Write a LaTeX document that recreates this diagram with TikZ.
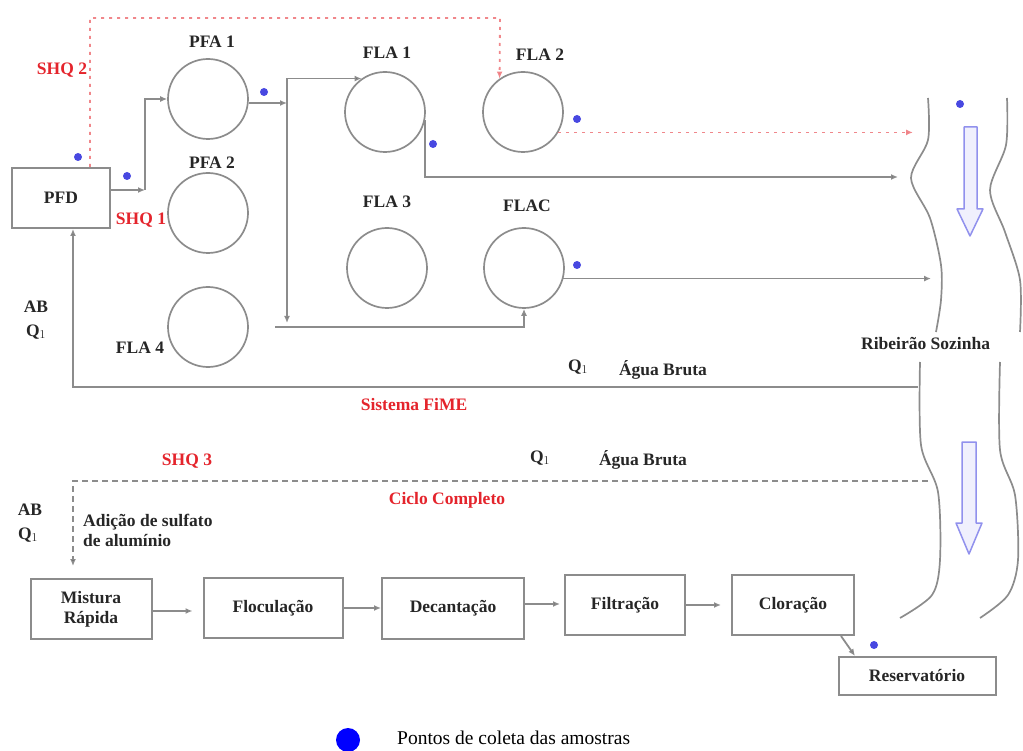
\documentclass[tikz,border=0pt]{standalone}
\usepackage{fontspec}
\setmainfont{Liberation Serif}
\usetikzlibrary{arrows.meta}

\definecolor{linegray}{RGB}{140,140,140}
\definecolor{shqred}{RGB}{228,36,44}
\definecolor{dotblue}{RGB}{72,72,225}
\definecolor{legendblue}{RGB}{0,0,255}
\newcommand{\unitfont}{\fontsize{17.5}{20}\selectfont\bfseries}

\tikzset{
  tank/.style={circle,draw=linegray,line width=1.7pt,minimum size=80pt,inner sep=0pt},
  unitbox/.style={rectangle,draw=linegray,line width=2pt,align=center,
    font=\unitfont,text=black!85,inner sep=0pt},
  lbl/.style={font=\unitfont,text=black!85,align=left,inner sep=0pt},
  redlbl/.style={lbl,text=shqred},
  flow/.style={draw=linegray,line width=1.8pt,
    -{Latex[length=7pt,width=6pt,fill=black!75]}},
  shqline/.style={draw=shqred!55,line width=1.8pt,dash pattern=on 3pt off 5pt,
    -{Latex[length=7pt,width=6pt,fill=shqred!70]}},
  rawline/.style={draw=linegray,line width=1.8pt,dash pattern=on 6pt off 4pt,
    -{Latex[length=7pt,width=6pt,fill=black]}},
  coleta/.style={circle,fill=dotblue,minimum size=8pt,inner sep=0pt},
  bank/.style={draw=linegray,line width=1.7pt},
  current/.style={draw=dotblue!60,fill=dotblue!8,line width=1.5pt,line join=round},
}

\begin{document}
\begin{tikzpicture}[x=1pt,y=-1pt]
  \useasboundingbox (0,0) rectangle (1023,751);

  % Sistema FiME: pre-filtros, filtros lentos e o ribeirao
  \node[unitbox,minimum width=98pt,minimum height=60pt] (pfd) at (61,198) {PFD};
  \node[tank] (pfa1) at (208,99) {};
  \node[lbl] (pfa1-lbl) at (212,42) {PFA 1};
  \node[tank] (pfa2) at (208,213) {};
  \node[lbl] (pfa2-lbl) at (212,163) {PFA 2};
  \node[tank] (fla4) at (208,327) {};
  \node[lbl] (fla4-lbl) at (140,348) {FLA 4};
  \node[tank] (fla1) at (385,112) {};
  \node[lbl] (fla1-lbl) at (387,53) {FLA 1};
  \node[tank] (fla2) at (523,112) {};
  \node[lbl] (fla2-lbl) at (540,55) {FLA 2};
  \node[tank] (fla3) at (387,268) {};
  \node[lbl] (fla3-lbl) at (387,202) {FLA 3};
  \node[tank] (flac) at (524,268) {};
  \node[lbl] (flac-lbl) at (527,206) {FLAC};

  % pontos de passagem e chegada no ribeirao
  \coordinate (split) at (145,190);
  \coordinate (jct) at (287,103);
  \coordinate (low) at (287,323);
  \coordinate (stub) at (275,327);
  \coordinate (shqtop) at (500,18);
  \coordinate (riv1) at (898,177);
  \coordinate (riv2) at (913,133);
  \coordinate (riv3) at (931,277);
  \coordinate (riv4) at (918,387);
  \coordinate (riv5) at (928,481);

  \draw[flow] ([yshift=8pt]pfd.east) -- (split);
  \draw[flow] (split) |- (pfa1.west);
  \draw[flow] (pfa1.east |- jct) -- (jct);
  \draw[flow] (jct) |- (fla1.125);
  \draw[flow] (jct) -- (low);
  \draw[flow] (stub) -| (flac.south);
  \draw[flow] (fla1.-12) |- (riv1);
  \draw[flow] (flac.-15) -- (flac.-15 -| riv3);
  \draw[flow] (riv4) -| ([xshift=12pt]pfd.south);
  \draw[shqline] ([xshift=29pt]pfd.north) |- (shqtop) -- (fla2.125);
  \draw[shqline] (fla2.-30) -- (fla2.-30 -| riv2);

  \node[redlbl] (shq2) at (62,70) {SHQ 2};
  \node[redlbl] (shq1) at (141,220) {SHQ 1};
  \node[lbl] (ab1) at (36,307) {AB};
  \node[lbl] (q1a) at (36,332) {Q$_1$};
  \node[lbl] (q1b) at (578,367) {Q$_1$};
  \node[lbl] (agua1) at (663,370) {Água Bruta};
  \node[redlbl] (fime) at (414,405) {Sistema FiME};

  % Ribeirao: margens, sentido da corrente
  \draw[bank] plot[smooth] coordinates
    {(928,98) (928,140) (911,178) (930,218) (941,265) (941,300) (936,332)};
  \draw[bank] plot[smooth] coordinates
    {(1007,98) (1006,145) (990,190) (1005,232) (1020,280) (1020,332)};
  \draw[bank] plot[smooth] coordinates
    {(920,362) (921,445) (938,492) (940,560) (932,595) (900,618)};
  \draw[bank] plot[smooth] coordinates
    {(1000,362) (1000,450) (1015,495) (1018,560) (1008,595) (980,618)};
  \node[lbl,anchor=west] (ribeirao) at (861,343) {Ribeirão Sozinha};
  \draw[current] (964,127) -- (977,127) -- (977,209) -- (983,209) -- (970,236)
    -- (957,209) -- (964,209) -- cycle;
  \draw[current] (962,442) -- (976,442) -- (976,523) -- (982,523) -- (969,554)
    -- (956,523) -- (962,523) -- cycle;

  % Ciclo Completo: tratamento convencional
  \node[unitbox,minimum width=121pt,minimum height=60pt] (mist) at (91,609) {Mistura\\Rápida};
  \node[unitbox,minimum width=139pt,minimum height=60pt] (floc) at (273,608) {Floculação};
  \node[unitbox,minimum width=142pt,minimum height=61pt] (deca) at (453,608) {Decantação};
  \node[unitbox,minimum width=120pt,minimum height=60pt] (filt) at (625,605) {Filtração};
  \node[unitbox,minimum width=122pt,minimum height=60pt] (clor) at (793,605) {Cloração};
  \node[unitbox,minimum width=157pt,minimum height=38pt] (resv) at (917,676) {Reservatório};

  \draw[rawline] (riv5) -| ([xshift=-18pt,yshift=12pt]mist.north);
  \draw[flow,shorten >=10pt] ([yshift=-2pt]mist.east) -- ([yshift=-2pt]mist.east -| floc.west);
  \draw[flow] (floc.east) -- (floc.east -| deca.west);
  \draw[flow,shorten >=4pt] ([yshift=4pt]deca.east) -- ([yshift=4pt]deca.east -| filt.west);
  \draw[flow,shorten >=10pt] (filt.east) -- (filt.east -| clor.west);
  \draw[flow] ([xshift=-14pt]clor.south east) -- ([xshift=-62pt]resv.north);

  \node[redlbl] (shq3) at (187,461) {SHQ 3};
  \node[lbl] (q1c) at (540,458) {Q$_1$};
  \node[lbl] (agua2) at (643,460) {Água Bruta};
  \node[redlbl] (ciclo) at (447,500) {Ciclo Completo};
  \node[lbl] (ab2) at (30,510) {AB};
  \node[lbl] (q1d) at (28,535) {Q$_1$};
  \node[lbl,anchor=west] (sulfato) at (83,530) {Adição de sulfato\\ de alumínio};

  % pontos de coleta
  \node[coleta] (c1) at (78,157) {};
  \node[coleta] (c2) at (127,176) {};
  \node[coleta] (c3) at (264,92) {};
  \node[coleta] (c4) at (433,144) {};
  \node[coleta] (c5) at (577,119) {};
  \node[coleta] (c6) at (577,265) {};
  \node[coleta] (c7) at (960,104) {};
  \node[coleta] (c8) at (874,645) {};

  % legenda
  \node[circle,fill=legendblue,minimum size=24pt,inner sep=0pt] (leg) at (348,740) {};
  \node[anchor=west,font=\fontsize{19.5}{22}\selectfont,inner sep=0pt] (legtxt) at (397,738)
    {Pontos de coleta das amostras};
\end{tikzpicture}
\end{document}
